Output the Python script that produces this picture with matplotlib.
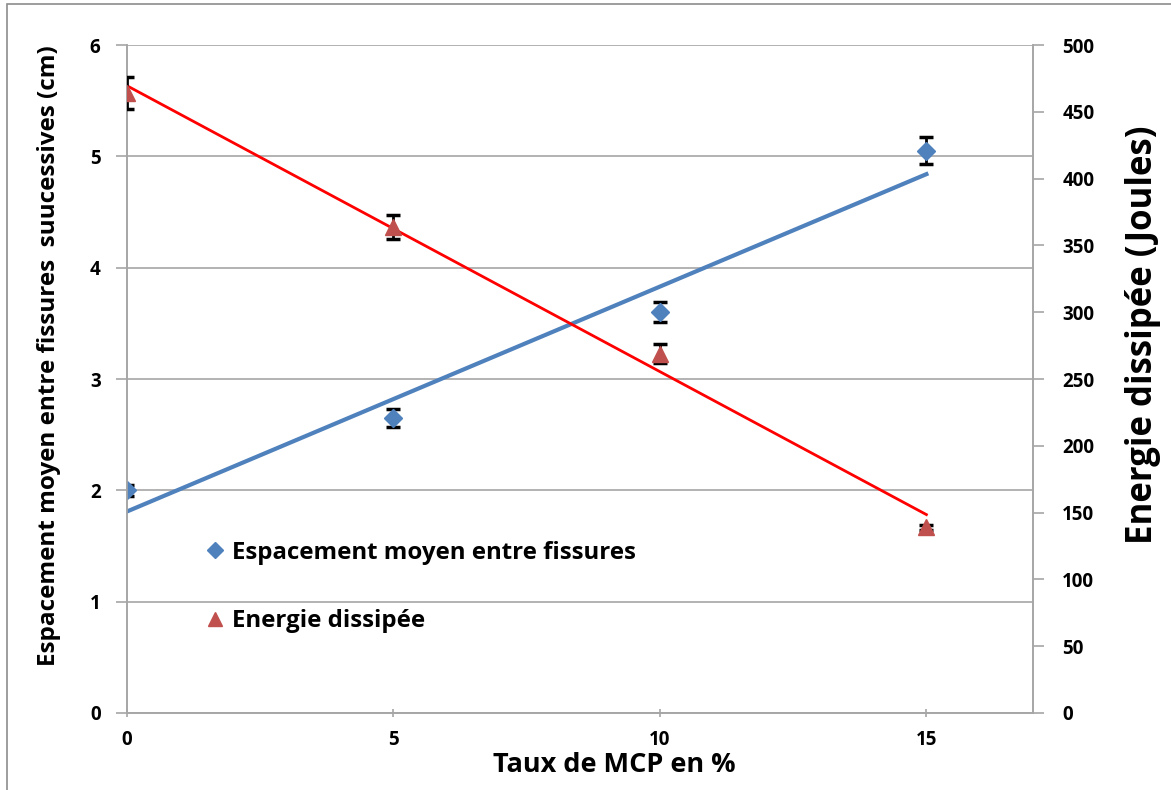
import numpy as np
import matplotlib
matplotlib.use('Agg')
import matplotlib.pyplot as plt
from matplotlib.patches import Rectangle

plt.rcParams['font.family'] = ['Open Sans', 'DejaVu Sans']
plt.rcParams['font.weight'] = 'bold'

# donnees
taux_mcp = [0, 5, 10, 15]
espacement = [2.0, 2.65, 3.6, 5.05]
espacement_err = [0.05, 0.08, 0.09, 0.12]
energie = [464, 364, 269, 139]
energie_err = [12, 9, 7, 2]

bleu = '#4F81BD'
rouge_marq = '#C0504D'
gris = '#A6A6A6'

fig = plt.figure(figsize=(11.71, 7.90), dpi=100)
ax = fig.add_axes([127 / 1171, 1 - 713 / 790, (1033 - 127) / 1171, (713 - 45) / 790])
ax2 = ax.twinx()

# cadre de la figure
fig.patches.append(Rectangle((7 / 1171, -0.1), 1.2, 1 - 4 / 790 + 0.1, transform=fig.transFigure,
                             fill=False, edgecolor='#8C8C8C', linewidth=1.2))

# courbes de tendance (regression lineaire)
x = np.array(taux_mcp, dtype=float)
p1 = np.polyfit(x, espacement, 1)
p2 = np.polyfit(x, energie, 1)
xx = np.array([0, 15])
ax.plot(xx, np.polyval(p1, xx), color=bleu, linewidth=3, zorder=3)
ax2.plot(xx, np.polyval(p2, xx), color='#FF0000', linewidth=2, zorder=3)

# barres d'erreur
ax.errorbar(taux_mcp, espacement, yerr=espacement_err, fmt='none', ecolor='black',
            elinewidth=2, capsize=5, capthick=2.5, zorder=4)
ax2.errorbar(taux_mcp, energie, yerr=energie_err, fmt='none', ecolor='black',
             elinewidth=2, capsize=5, capthick=2.5, zorder=4)

h1, = ax.plot(taux_mcp, espacement, linestyle='none', marker='D', markersize=9,
              color=bleu, label='Espacement moyen entre fissures', zorder=5)
h2, = ax2.plot(taux_mcp, energie, linestyle='none', marker='^', markersize=12,
               color=rouge_marq, label='Energie dissipée', zorder=5)

ax.set_xlim(0, 17)
ax.set_ylim(0, 6)
ax2.set_ylim(0, 500)
ax.set_xticks([0, 5, 10, 15])
ax.set_yticks(np.arange(0, 7, 1))
ax2.set_yticks(np.arange(0, 501, 50))

ax.grid(axis='y', color=gris, linewidth=1.2)
ax.set_axisbelow(True)
for a in (ax, ax2):
    a.spines['top'].set_visible(False)
    for s in ('left', 'right', 'bottom'):
        a.spines[s].set_color(gris)
        a.spines[s].set_linewidth(1.2)

ax.tick_params(axis='y', length=8, width=1.2, color=gris, pad=11, labelsize=13.5)
ax.tick_params(axis='x', length=6, width=1.2, color=gris, pad=9, labelsize=13.5, direction='inout')
ax2.tick_params(axis='y', length=8, width=1.2, color=gris, pad=13, labelsize=13.5)

ax.set_xlabel('Taux de MCP en %', fontsize=19.5, fontweight='bold')
ax.xaxis.set_label_coords((614 - 127) / 906, -0.058)
ax.set_ylabel('Espacement moyen entre fissures  suucessives (cm)', fontsize=17.5,
              fontweight='bold')
ax.yaxis.set_label_coords(-0.073, 0.535)
ax2.set_ylabel('Energie dissipée (Joules)', fontsize=25, fontweight='bold')
ax2.yaxis.set_label_coords(1.101, 0.566)

ax2.legend(handles=[h1, h2], loc='upper left', bbox_to_anchor=(184 / 1171, 1 - 519 / 790),
           bbox_transform=fig.transFigure, frameon=False, fontsize=17.3, handlelength=0.8,
           handletextpad=0.3, labelspacing=1.85, markerscale=0.85)

fig.savefig('out.png', dpi=100)
